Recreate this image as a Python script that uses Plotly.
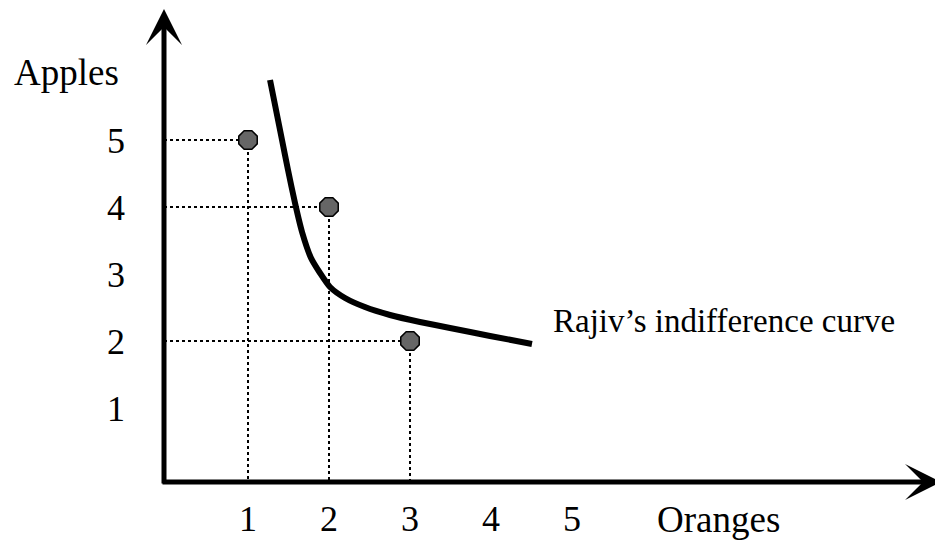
import plotly.graph_objects as go

# ---- data ----
bundle_oranges = [1, 2, 3]
bundle_apples = [5, 4, 2]
curve_oranges = [1.272, 1.346, 1.420, 1.494, 1.580, 1.667, 1.778, 1.889, 2.012,
                 2.198, 2.444, 2.753, 3.123, 3.494, 3.988, 4.506]
curve_apples = [5.896, 5.448, 5.000, 4.552, 4.060, 3.627, 3.239, 3.015, 2.806,
                2.642, 2.507, 2.388, 2.284, 2.194, 2.075, 1.955]
x_ticks = [1, 2, 3, 4, 5]
y_ticks = [1, 2, 3, 4, 5]
x_title = "Oranges"
y_title = "Apples"
curve_label = "Rajiv\u2019s indifference curve"

# ---- geometry ----
W, H = 943, 541
OFF = 8                      # page body margin of the html page
AX_L, AX_B = 164, 482        # axis position in page pixels
ML = AX_L - OFF
MB = H - (AX_B - OFF)
X0, SX = 167.0, 81.0         # page pixel of x=0, pixels per unit
Y0, SY = 475.0, 67.0         # page pixel of y=0, pixels per unit

def dx(px):
    return (px - X0) / SX

def dy(py):
    return (Y0 - py) / SY

def paper_x(px):
    return (px - AX_L) / (W + OFF - AX_L)

def paper_y(py):
    return (AX_B - py) / (AX_B - OFF)

x_lo, x_hi = dx(AX_L), dx(W + OFF)
y_lo, y_hi = dy(AX_B), dy(OFF)

FONT = "Liberation Serif, Times New Roman, serif"

fig = go.Figure()

# dotted guide lines
for xo, ya in zip(bundle_oranges, bundle_apples):
    fig.add_trace(go.Scatter(x=[x_lo, xo], y=[ya, ya], mode="lines",
                             line=dict(color="black", width=2, dash="dot"),
                             hoverinfo="skip", showlegend=False))
    fig.add_trace(go.Scatter(x=[xo, xo], y=[ya, y_lo], mode="lines",
                             line=dict(color="black", width=2, dash="dot"),
                             hoverinfo="skip", showlegend=False))

# indifference curve
fig.add_trace(go.Scatter(x=curve_oranges, y=curve_apples, mode="lines",
                         line=dict(color="black", width=6, shape="spline", smoothing=0.6),
                         showlegend=False))

# bundles
fig.add_trace(go.Scatter(x=bundle_oranges, y=bundle_apples, mode="markers",
                         marker=dict(symbol="octagon", size=20, color="#666666",
                                     line=dict(color="black", width=1.5)),
                         showlegend=False))

annotations = [
    # y axis arrow
    dict(x=x_lo, y=dy(OFF + 1), ax=x_lo, ay=dy(AX_B + 3), xref="x", yref="y",
         axref="x", ayref="y", showarrow=True, arrowhead=3, arrowsize=1.2,
         arrowwidth=5, arrowcolor="black", text=""),
    # x axis arrow
    dict(x=dx(941), y=y_lo, ax=dx(AX_L - 3), ay=y_lo, xref="x", yref="y",
         axref="x", ayref="y", showarrow=True, arrowhead=3, arrowsize=1.2,
         arrowwidth=5, arrowcolor="black", text=""),
    dict(x=paper_x(12), y=paper_y(72), xref="paper", yref="paper", text=y_title,
         showarrow=False, xanchor="left", yanchor="middle",
         font=dict(family=FONT, size=37, color="black")),
    dict(x=paper_x(655), y=paper_y(520), xref="paper", yref="paper", text=x_title,
         showarrow=False, xanchor="left", yanchor="middle",
         font=dict(family=FONT, size=37, color="black")),
    dict(x=paper_x(551), y=paper_y(321), xref="paper", yref="paper", text=curve_label,
         showarrow=False, xanchor="left", yanchor="middle",
         font=dict(family=FONT, size=33, color="black")),
]

fig.update_layout(
    width=W, height=H,
    margin=dict(l=ML, r=0, t=0, b=MB, pad=0),
    paper_bgcolor="white", plot_bgcolor="white",
    showlegend=False,
    annotations=annotations,
    xaxis=dict(range=[x_lo, x_hi], tickvals=x_ticks, ticktext=[str(v) for v in x_ticks],
               showgrid=False, zeroline=False, showline=False, ticks="",
               ticklabelstandoff=12,
               tickfont=dict(family=FONT, size=36, color="black"), fixedrange=True),
    yaxis=dict(range=[y_lo, y_hi], tickvals=y_ticks, ticktext=[str(v) for v in y_ticks],
               showgrid=False, zeroline=False, showline=False, ticks="",
               ticklabelstandoff=38,
               tickfont=dict(family=FONT, size=36, color="black"), fixedrange=True),
)

fig.write_html("out.html")
